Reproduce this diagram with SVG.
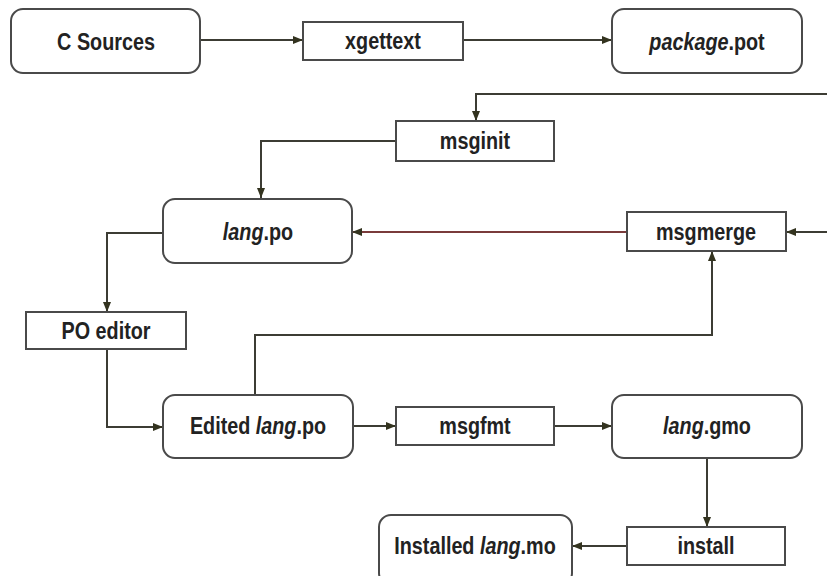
<svg xmlns="http://www.w3.org/2000/svg" width="827" height="576" viewBox="0 0 827 576">
<defs>
<marker id="ah" viewBox="0 0 10 10" refX="10" refY="5" markerWidth="10" markerHeight="10" markerUnits="userSpaceOnUse" orient="auto">
<path d="M0,1 L10,5 L0,9 Z" fill="#33331f"/>
</marker>
</defs>
<style>
.nd{fill:#fff;stroke:#4a4a4a;stroke-width:2}
.cn{fill:none;stroke:#3c3c34;stroke-width:2}
.red{stroke:#7a3b3b}
text{font-family:"Liberation Sans",Arial,sans-serif;font-weight:bold;font-size:23px;fill:#222;text-anchor:middle}
.it{font-style:italic}
</style>
<rect width="827" height="576" fill="#fff"/>
<g id="connectors">
<path class="cn" d="M200,40 H303" marker-end="url(#ah)"/>
<path class="cn" d="M463,40 H612" marker-end="url(#ah)"/>
<path class="cn" d="M827,94 H476 V121" marker-end="url(#ah)"/>
<path class="cn" d="M396,141 H261 V198" marker-end="url(#ah)"/>
<path class="cn red" d="M627,232 H352" marker-end="url(#ah)"/>
<path class="cn" d="M827,232 H786" marker-end="url(#ah)"/>
<path class="cn" d="M163,233 H107 V312" marker-end="url(#ah)"/>
<path class="cn" d="M107,349 V427 H163" marker-end="url(#ah)"/>
<path class="cn" d="M255,395 V335 H712 V251" marker-end="url(#ah)"/>
<path class="cn" d="M353,426 H396" marker-end="url(#ah)"/>
<path class="cn" d="M554,426 H612" marker-end="url(#ah)"/>
<path class="cn" d="M707,458 V527" marker-end="url(#ah)"/>
<path class="cn" d="M627,546 H572" marker-end="url(#ah)"/>
</g>
<g id="c-sources">
<rect class="nd" x="11" y="9" width="189" height="64" rx="12"/>
<text transform="translate(106,50) scale(0.86,1)">C Sources</text>
</g>
<g id="xgettext">
<rect class="nd" x="303" y="22" width="160" height="38"/>
<text transform="translate(383,49) scale(0.86,1)">xgettext</text>
</g>
<g id="package-pot">
<rect class="nd" x="612" y="9" width="190" height="64" rx="12"/>
<text transform="translate(707,50) scale(0.86,1)"><tspan class="it">package</tspan>.pot</text>
</g>
<g id="msginit">
<rect class="nd" x="396" y="121" width="158" height="40"/>
<text transform="translate(475,149) scale(0.86,1)">msginit</text>
</g>
<g id="lang-po">
<rect class="nd" x="163" y="199" width="189" height="64" rx="12"/>
<text transform="translate(258,240) scale(0.86,1)"><tspan class="it">lang</tspan>.po</text>
</g>
<g id="msgmerge">
<rect class="nd" x="627" y="212" width="159" height="39"/>
<text transform="translate(706,240) scale(0.86,1)">msgmerge</text>
</g>
<g id="po-editor">
<rect class="nd" x="26" y="312" width="160" height="37"/>
<text transform="translate(106,339) scale(0.86,1)">PO editor</text>
</g>
<g id="edited-lang-po">
<rect class="nd" x="163" y="395" width="190" height="63" rx="12"/>
<text transform="translate(258,434) scale(0.86,1)">Edited <tspan class="it">lang</tspan>.po</text>
</g>
<g id="msgfmt">
<rect class="nd" x="396" y="407" width="158" height="38"/>
<text transform="translate(475,434) scale(0.86,1)">msgfmt</text>
</g>
<g id="lang-gmo">
<rect class="nd" x="612" y="395" width="190" height="63" rx="12"/>
<text transform="translate(707,434) scale(0.86,1)"><tspan class="it">lang</tspan>.gmo</text>
</g>
<g id="install">
<rect class="nd" x="627" y="527" width="158" height="38"/>
<text transform="translate(706,554) scale(0.86,1)">install</text>
</g>
<g id="installed-lang-mo">
<rect class="nd" x="379" y="515" width="193" height="70" rx="12"/>
<text transform="translate(475,554) scale(0.86,1)">Installed <tspan class="it">lang</tspan>.mo</text>
</g>
</svg>
